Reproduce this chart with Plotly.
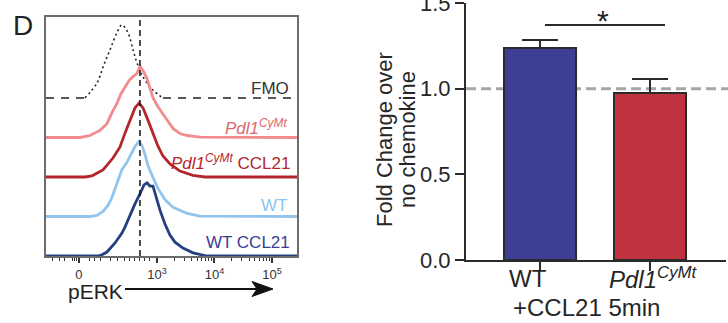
import plotly.graph_objects as go

W, H = 728, 323

# ---------------- data: left panel (flow histograms) ----------------
# x in display units (10^3 -> 3, 10^4 -> 4, 10^5 -> 5 ; "0" at 1.64), heights in stacked units
fmo_x = [1.07, 1.748, 1.957, 2.061, 2.183, 2.304, 2.391, 2.496, 2.583, 2.652, 2.757, 2.930, 3.104, 5.435]
fmo_h = [0, 0.0, 0.38, 0.78, 1.22, 1.65, 1.85, 1.65, 1.22, 0.89, 0.53, 0.20, 0.0, 0]

pdl_x = [1.070, 1.661, 1.835, 2.009, 2.130, 2.217, 2.304, 2.374, 2.443, 2.513, 2.583, 2.652, 2.704,
         2.774, 2.826, 2.878, 2.930, 3.017, 3.104, 3.191, 3.278, 3.400, 3.522, 3.748, 5.435]
pdl_h = [0, 0, 0.05, 0.18, 0.35, 0.63, 0.86, 1.11, 1.27, 1.44, 1.54, 1.62, 1.80,
         1.65, 1.49, 1.27, 1.01, 0.78, 0.61, 0.41, 0.23, 0.10, 0.05, 0.01, 0]

pdlc_x = [1.070, 1.748, 1.870, 2.061, 2.235, 2.357, 2.443, 2.530, 2.617, 2.687, 2.757, 2.843, 2.930,
          3.017, 3.104, 3.226, 3.400, 3.626, 3.835, 5.435]
pdlc_h = [0, 0, 0.03, 0.18, 0.48, 0.76, 1.11, 1.44, 1.75, 1.87, 1.75, 1.44, 1.11,
          0.78, 0.53, 0.33, 0.15, 0.04, 0, 0]

wt_x = [1.070, 1.835, 1.957, 2.061, 2.148, 2.217, 2.304, 2.391, 2.478, 2.548, 2.617, 2.687, 2.739,
        2.791, 2.843, 2.930, 3.017, 3.139, 3.278, 3.522, 3.748, 5.435]
wt_h = [0, 0, 0.03, 0.13, 0.28, 0.48, 0.84, 1.19, 1.37, 1.57, 1.77, 1.90, 1.80,
        1.57, 1.29, 0.99, 0.71, 0.43, 0.23, 0.08, 0.01, 0]

wtc_x = [1.070, 1.974, 2.043, 2.130, 2.270, 2.391, 2.443, 2.530, 2.617, 2.704, 2.774, 2.826, 2.878,
         2.930, 2.983, 3.052, 3.139, 3.226, 3.313, 3.452, 3.626, 3.870, 5.435]
wtc_h = [0, 0, 0.03, 0.10, 0.33, 0.58, 0.73, 1.04, 1.32, 1.57, 1.80, 1.85, 1.77,
         1.77, 1.49, 1.16, 0.81, 0.53, 0.35, 0.20, 0.08, 0, 0]

gate_x = 2.704
hist_ticks = [1.64, 3, 4, 5]
hist_ticktext = ["0", "10<sup>3</sup>", "10<sup>4</sup>", "10<sup>5</sup>"]
hist_minor = [1.191, 1.313, 1.400, 1.539, 1.574, 1.609, 1.835, 1.922, 2.009, 2.183, 2.322, 2.443,
              2.530, 2.617, 2.704, 2.791, 2.878,
              3.301, 3.477, 3.602, 3.699, 3.778, 3.845, 3.903, 3.954,
              4.301, 4.477, 4.602, 4.699, 4.778, 4.845, 4.903, 4.954]

# ---------------- data: right panel (bar chart) ----------------
bar_cats = ["WT", "Pdl1CyMt"]
bar_vals = [1.238, 0.975]
bar_err = [0.046, 0.082]
bar_colors = ["#3C3F93", "#C1323F"]
y_ticks = [0, 0.5, 1.0, 1.5]
y_ticktext = ["0.0", "0.5", "1.0", "1.5"]

FONT = "Arial, Liberation Sans, sans-serif"
TXT = "#262626"

def px(x):
    return x / W

def py(y):
    return 1 - y / H

fig = go.Figure()

# histograms (stacked offsets: FMO 4, Pdl1 3, Pdl1 CCL21 2, WT 1, WT CCL21 0)
fig.add_trace(go.Scatter(x=[fmo_x[0], fmo_x[1], None, fmo_x[-2], fmo_x[-1]],
                         y=[4 + fmo_h[0], 4 + fmo_h[1], None, 4 + fmo_h[-2], 4 + fmo_h[-1]],
                         mode="lines", line=dict(color="#222", width=1.3, dash="8px,7px"),
                         xaxis="x", yaxis="y", hoverinfo="skip"))
fig.add_trace(go.Scatter(x=fmo_x[1:-1], y=[4 + v for v in fmo_h[1:-1]], mode="lines",
                         line=dict(color="#222", width=1.6, dash="2px,3px", shape="spline"),
                         xaxis="x", yaxis="y", hoverinfo="skip"))
series = [
    (pdl_x, pdl_h, 3, "#F28B8E"),
    (pdlc_x, pdlc_h, 2, "#B3262C"),
    (wt_x, wt_h, 1, "#92C4EC"),
    (wtc_x, wtc_h, 0, "#26407F"),
]
for xs, hs, off, col in series:
    fig.add_trace(go.Scatter(x=xs, y=[off + v for v in hs], mode="lines",
                             line=dict(color=col, width=2.8),
                             xaxis="x", yaxis="y", hoverinfo="skip"))

# bars
fig.add_trace(go.Bar(x=[0, 1], y=bar_vals, width=0.655,
                     marker=dict(color=bar_colors, line=dict(color="#2b2b2b", width=2)),
                     error_y=dict(type="data", array=bar_err, arrayminus=[0, 0], symmetric=False,
                                  width=18, thickness=2, color="#2b2b2b"),
                     xaxis="x2", yaxis="y2", hoverinfo="skip"))

fig.update_layout(
    width=W, height=H, margin=dict(l=0, r=0, t=0, b=0, autoexpand=False),
    paper_bgcolor="white", plot_bgcolor="white", showlegend=False,
    font=dict(family=FONT, color=TXT),
    xaxis=dict(domain=[px(46), px(297)], range=[1.07, 5.435], showgrid=False, zeroline=False,
               automargin=False,
               showline=True, mirror=True, linecolor="#6d6d6d", linewidth=1.5,
               tickmode="array", tickvals=hist_ticks, ticktext=hist_ticktext,
               ticks="outside", ticklen=5, tickwidth=1.5, tickcolor="#333",
               tickfont=dict(size=13, color="#333"), ticklabelstandoff=1,
               minor=dict(tickmode="array", tickvals=hist_minor, ticks="outside", ticklen=3,
                          tickwidth=1, tickcolor="#333", showgrid=False),
               anchor="y"),
    yaxis=dict(domain=[py(256), py(17)], range=[0, 6.05], showgrid=False, zeroline=False,
               automargin=False,
               showline=True, mirror=True, linecolor="#6d6d6d", linewidth=1.5,
               showticklabels=False, ticks="", anchor="x"),
    xaxis2=dict(domain=[px(466), px(726)], range=[-0.673, 1.691], showgrid=False, zeroline=False,
                automargin=False,
                showline=True, linecolor="#2b2b2b", linewidth=2, tickmode="array",
                tickvals=[0, 1], ticktext=["", ""], ticks="outside", ticklen=9, tickwidth=2,
                tickcolor="#2b2b2b", showticklabels=False, anchor="y2"),
    yaxis2=dict(domain=[py(260), py(3)], range=[0, 1.5], showgrid=False, zeroline=False,
                automargin=False, ticklabeloverflow="allow",
                showline=True, linecolor="#2b2b2b", linewidth=2, tickmode="array",
                tickvals=y_ticks, ticktext=y_ticktext, ticks="outside", ticklen=9, tickwidth=2,
                tickcolor="#2b2b2b", tickfont=dict(size=22, color=TXT), anchor="x2"),
)

shapes = [
    # gate line
    dict(type="line", xref="x", yref="y domain", x0=gate_x, x1=gate_x, y0=0, y1=1,
         line=dict(color="#111", width=1.5, dash="6px,4px")),
    # reference line at 1.0
    dict(type="line", xref="paper", yref="y2", x0=px(466), x1=1, y0=1.0, y1=1.0,
         line=dict(color="#A6A6A6", width=3, dash="10px,5px"), layer="below"),
    # significance bar
    dict(type="line", xref="paper", yref="paper", x0=px(545), x1=px(665), y0=py(25), y1=py(25),
         line=dict(color="#2b2b2b", width=2)),
    # pERK arrow shaft
    dict(type="line", xref="paper", yref="paper", x0=px(125), x1=px(258), y0=py(289), y1=py(289),
         line=dict(color="#111", width=2)),
    # arrow head
    dict(type="path", xref="paper", yref="paper",
         path="M {} {} L {} {} L {} {} L {} {} Z".format(px(273), py(289), px(252), py(281.5),
                                                      px(257), py(289), px(252), py(296.5)),
         fillcolor="#111", line=dict(color="#111", width=1)),
]
fig.update_layout(shapes=shapes)

ann = []
def A(text, x, y, size, color=TXT, xanchor="center", yanchor="middle", angle=0):
    ann.append(dict(text=text, x=px(x), y=py(y), xref="paper", yref="paper", showarrow=False,
                    xanchor=xanchor, yanchor=yanchor, textangle=angle,
                    font=dict(size=size, color=color, family=FONT)))

A("D", 23, 25, 28, color="#222")
A("FMO", 291, 88, 17, color="#333", xanchor="right")
A("<i>Pdl1<sup>CyMt</sup></i>", 289, 127, 17, color="#E0666C", xanchor="right")
A("<i>Pdl1<sup>CyMt</sup></i> CCL21", 292, 162, 17, color="#B3262C", xanchor="right")
A("WT", 289, 205, 17, color="#8FC2EC", xanchor="right")
A("WT CCL21", 292, 242, 17, color="#3A3D94", xanchor="right")
A("pERK", 66, 291, 21, color="#222", xanchor="left")

A("Fold Change over", 384, 140, 22, angle=-90)
A("no chemokine", 407, 140, 22, angle=-90)
A("WT", 528, 278, 24)
A("<i>Pdl1<sup>CyMt</sup></i>", 653, 278, 24)
A("+CCL21 5min", 586, 307, 24)
A("*", 603, 20, 30, color="#222")

fig.update_layout(annotations=ann)

fig.write_html("out.html")
